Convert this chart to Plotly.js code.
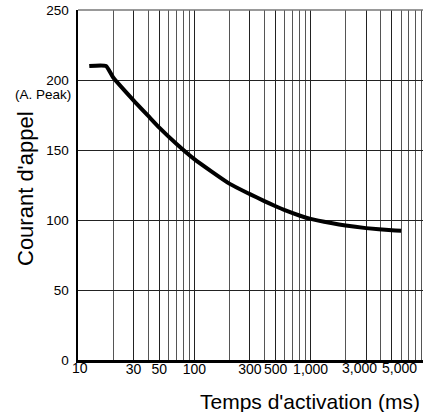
<!DOCTYPE html>
<html><head><meta charset="utf-8">
<script src="https://cdn.plot.ly/plotly-3.0.1.min.js"></script>
<style>html,body{margin:0;padding:0;background:#fff}#c{width:423px;height:412px}</style>
</head><body><div id="c"></div>
<script>
// Data
var timeMs = [12.5, 17.4, 20, 30, 40, 50, 70, 100, 200, 300, 400, 500, 600, 800, 1000, 1500, 2000, 3000, 5000, 6000];
var currentA = [210, 210, 202, 185.5, 174.5, 166, 154.5, 143.5, 126, 118.5, 113.5, 109.8, 107, 103.2, 100.8, 97.8, 96, 94.2, 92.7, 92.3];
var xTickVals = [10, 30, 50, 100, 300, 500, 1000, 3000, 5000];
var xTickText = ['10', '30', '50', '100', '300', '500', '1,000', '3,000', '5,000'];
var xMinorVals = [20, 40, 60, 70, 80, 90, 200, 400, 600, 700, 800, 900, 2000, 4000, 6000, 7000, 8000, 9000];
var yTickVals = [0, 50, 100, 150, 200, 250];
var xTitle = "Temps d'activation (ms)";
var yTitle = "Courant d'appel";
var yUnit = "(A. Peak)";

var font = 'Liberation Sans, Arial, Helvetica, sans-serif';
// labels that sit off-centre in the reference (pixel nudges)
var labelNudge = {10: 2, 3000: -7, 5000: 8};
var axisText = [], labelAnns = [];
xTickVals.forEach(function (v, i) {
  if (labelNudge[v] !== undefined) {
    axisText.push('');
    labelAnns.push({text: xTickText[i], xref: 'x', yref: 'paper', x: Math.log10(v), y: 0,
      xanchor: 'center', yanchor: 'top', yshift: 1, xshift: labelNudge[v], showarrow: false,
      borderpad: 0, font: {size: 14, family: font}});
  } else axisText.push(xTickText[i]);
});

var trace = {
  x: timeMs, y: currentA, type: 'scatter', mode: 'lines',
  line: {color: '#000', width: 4, shape: 'spline', smoothing: 0.5},
  hoverinfo: 'none', showlegend: false
};
var layout = {
  width: 423, height: 412,
  margin: {l: 78, r: 0, t: 10, b: 52, pad: 0},
  paper_bgcolor: '#fff', plot_bgcolor: '#fff',
  font: {family: font, color: '#000', size: 13},
  xaxis: {
    type: 'log', range: [1, 3.966],
    tickmode: 'array', tickvals: xTickVals, ticktext: axisText, tickangle: 0,
    showgrid: true, gridcolor: '#222', gridwidth: 1,
    minor: {tickmode: 'array', tickvals: xMinorVals, showgrid: true, gridcolor: '#555', gridwidth: 1, ticks: ''},
    showline: true, linecolor: '#000', linewidth: 3,
    ticks: '', ticklen: 0, zeroline: false, ticklabelstandoff: -6,
    tickfont: {size: 14, family: font}, fixedrange: true
  },
  yaxis: {
    range: [0, 250], tickmode: 'array', tickvals: yTickVals,
    showgrid: true, gridcolor: '#222', gridwidth: 1,
    showline: true, linecolor: '#000', linewidth: 2.5,
    ticks: '', ticklen: 0, zeroline: false, ticklabelstandoff: 4,
    tickfont: {size: 13.5, family: font}, fixedrange: true
  },
  shapes: [
    {type: 'line', xref: 'paper', yref: 'paper', x0: 0, x1: 1, y0: 1, y1: 1, line: {color: '#777', width: 1.5}}
  ],
  annotations: [
    {text: xTitle, xref: 'paper', yref: 'paper', x: (198 - 78) / 345, y: -0.118, xanchor: 'left', yanchor: 'middle', showarrow: false, font: {size: 21, family: font}},
    {text: yTitle, xref: 'paper', yref: 'paper', x: (25 - 78) / 345, y: (360 - 188) / 350, xanchor: 'center', yanchor: 'middle', textangle: -90, showarrow: false, font: {size: 22, family: font}},
    {text: yUnit, xref: 'paper', yref: 'paper', x: (72 - 78) / 345, y: (360 - 94) / 350, xanchor: 'right', yanchor: 'middle', showarrow: false, borderpad: 0, font: {size: 13.5, family: font}}
  ].concat(labelAnns)
};
Plotly.newPlot('c', [trace], layout, {staticPlot: true, displayModeBar: false});
</script></body></html>
